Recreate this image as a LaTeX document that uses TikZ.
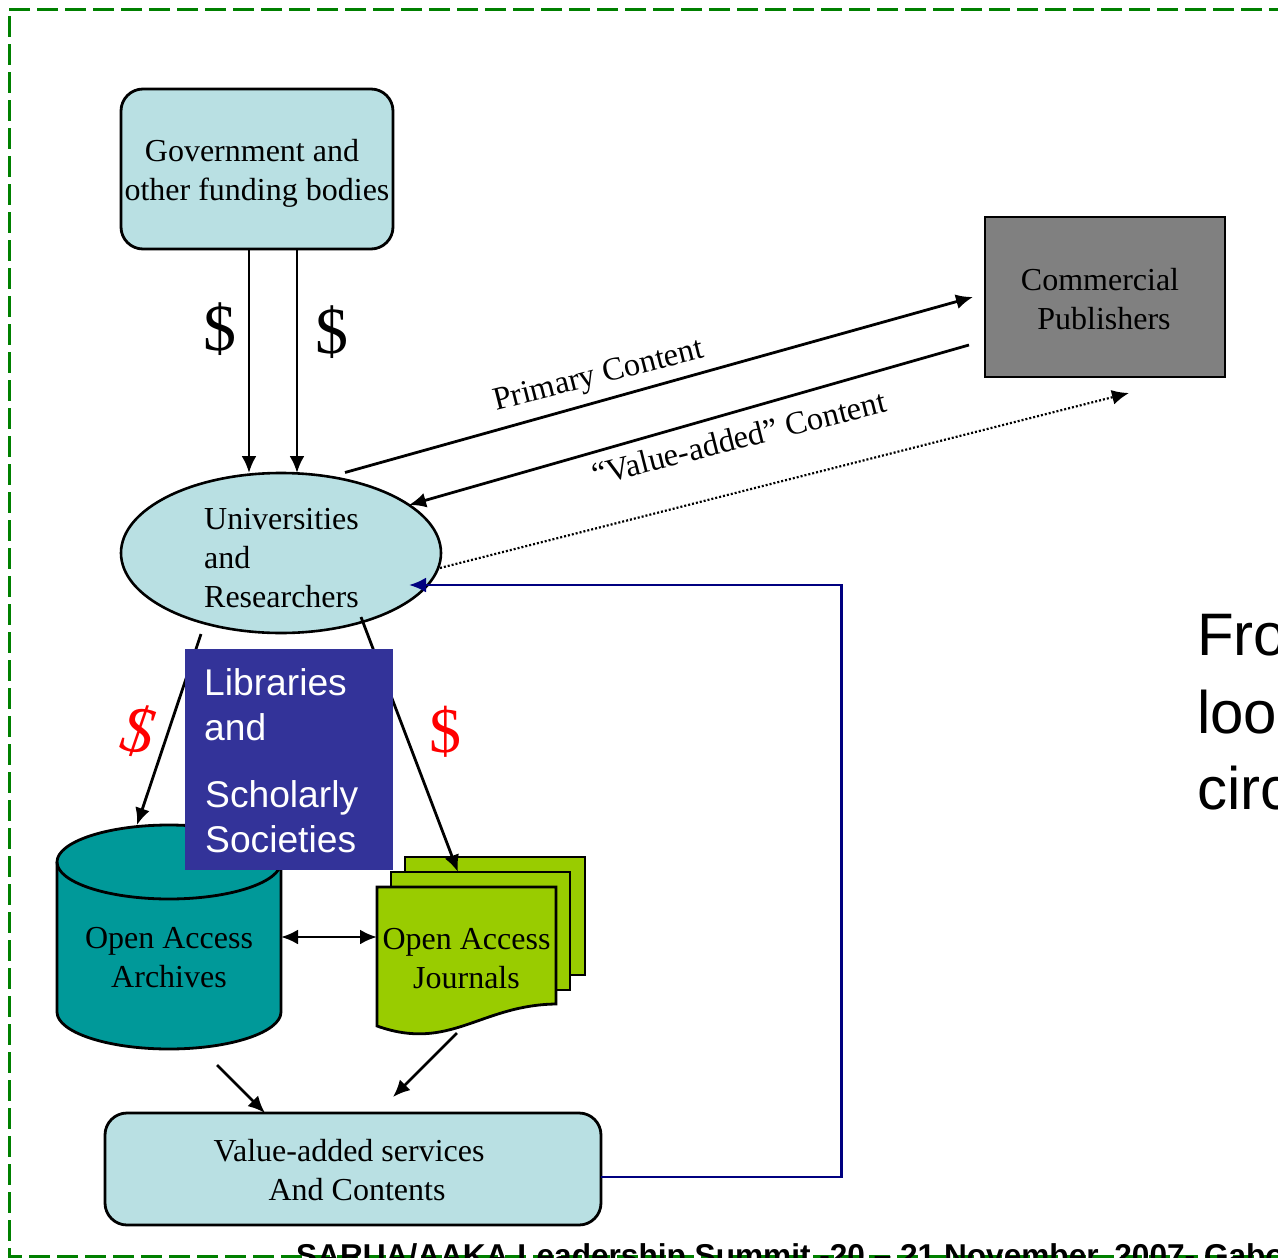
\documentclass[tikz,border=0pt]{standalone}
\usepackage{fontspec}
\setmainfont{Liberation Serif}
\setsansfont{Liberation Sans}
\usetikzlibrary{arrows.meta,shapes.geometric}
\definecolor{paleblue}{HTML}{B9E0E3}
\definecolor{teal2}{HTML}{009999}
\definecolor{lime2}{HTML}{99CC00}
\definecolor{indigo2}{HTML}{333399}
\definecolor{navy2}{HTML}{000080}
\definecolor{frame2}{HTML}{008000}
\definecolor{gray2}{HTML}{808080}
\newcommand{\fs}[2]{\fontsize{#1}{#2}\selectfont}
\newcommand{\gapr}[1]{\hspace*{#1}\mbox{}}
\tikzset{
  x=1pt,y=-1pt,
  tipstyle/.tip={Latex[length=17pt,width=15pt]},
  conn/.style={draw=black,line width=2.8pt,-tipstyle},
  paleround/.style={draw=black,line width=2.8pt,fill=paleblue,rounded corners=22pt,inner sep=0pt},
  bodytext/.style={inner sep=0pt,align=center,font=\fs{32}{39}},
  sheet/.style={draw=black,line width=2.8pt,fill=lime2},
  dollar/.style={inner sep=0pt,font=\fs{66}{66}},
  flowlabel/.style={inner sep=0pt,font=\fs{32.5}{39},rotate=14.2},
  bigtext/.style={inner sep=0pt,anchor=west,font=\sffamily\fs{60}{66}},
}
\begin{document}
\begin{tikzpicture}
\useasboundingbox (0,0) rectangle (1278,1258);
\clip (0,0) rectangle (1278,1258);
% frame
\draw[frame2,line width=3pt,dash pattern=on 21pt off 7pt] (1290,9) -- (9,9) -- (9,1256) -- (1290,1256);
% footer
\node[inner sep=0pt,anchor=base west,font=\sffamily\bfseries\fs{31.6}{36}] (footer) at (296,1266) {SARUA/AAKA Leadership Summit  -20 -- 21 November, 2007- Gabo};
% nodes
\node[paleround,minimum width=272pt,minimum height=160pt] (gov) at (257,169) {};
\node[bodytext] (govt) at (257,173) {Government and\gapr{10pt}\\other funding bodies};
\node[draw=black,line width=2.8pt,fill=gray2,inner sep=0pt,minimum width=240pt,minimum height=160pt] (pub) at (1105,297) {};
\node[bodytext] (pubt) at (1104,299) {Commercial\gapr{8pt}\\Publishers};
\node[ellipse,draw=black,line width=2.6pt,fill=paleblue,inner sep=0pt,minimum width=320pt,minimum height=160pt] (uni) at (281,553) {};
\node[bodytext,align=left] (unit) at (281.5,558) {Universities\\and\\Researchers};
\node[paleround,minimum width=496pt,minimum height=112pt] (vas) at (353,1169) {};
\node[bodytext] (vast) at (357,1170.5) {Value-added services\gapr{16pt}\\And Contents};
% cylinder
\draw[line width=2.8pt,fill=teal2] (57,862) -- (57,1012) .. controls (57,1032) and (107,1049) .. (169,1049) .. controls (231,1049) and (281,1032) .. (281,1012) -- (281,862) .. controls (281,842) and (231,825) .. (169,825) .. controls (107,825) and (57,842) .. cycle;
\draw[line width=2.8pt] (57,862) .. controls (57,882) and (107,899) .. (169,899) .. controls (231,899) and (281,882) .. (281,862);
\node[bodytext] (arch) at (169,958) {Open Access\\Archives};
% journals
\draw[sheet] (405,857) rectangle (585,975);
\draw[sheet] (391,872) rectangle (570,990);
\draw[sheet] (377,887) -- (556,887) -- (556,1004) .. controls (480,1005) and (450,1052) .. (377,1026) -- cycle;
\node[bodytext] (jour) at (466.5,959) {Open Access\\Journals};
% connector ends
\coordinate (g1) at (249,249); \coordinate (u1) at (249,473);
\coordinate (g2) at (297,249); \coordinate (u2) at (297,473);
\coordinate (p1s) at (345,472.5); \coordinate (p1e) at (973,297);
\coordinate (p2s) at (969,345); \coordinate (p2e) at (409,505);
\coordinate (p3s) at (440,568); \coordinate (p3e) at (1129,393);
\coordinate (l1s) at (201,634); \coordinate (l1e) at (137,825);
\coordinate (l2s) at (361,617); \coordinate (l2e) at (458,872);
\coordinate (a1) at (281,937); \coordinate (j1) at (377,937);
\coordinate (j2) at (457,1033); \coordinate (v1) at (393,1097);
\coordinate (a2) at (217,1065); \coordinate (v2) at (265,1113);
\coordinate (b1) at (601,1177); \coordinate (b2) at (841.5,1177); \coordinate (b3) at (841.5,585); \coordinate (b4) at (409,585);
% connectors
\draw[conn] (g1) -- (u1);
\draw[conn] (g2) -- (u2);
\draw[conn] (p1s) -- (p1e);
\draw[conn] (p2s) -- (p2e);
\draw[conn,line width=2.2pt,dash pattern=on 2pt off 2pt] (p3s) -- (p3e);
\draw[conn] (l1s) -- (l1e);
\draw[conn] (l2s) -- (l2e);
\draw[conn,tipstyle-tipstyle] (a1) -- (j1);
\draw[conn] (j2) -- (v1);
\draw[conn] (a2) -- (v2);
\draw[line width=2.8pt,draw=navy2,-tipstyle,line join=miter] (b1) -- (b2) -- (b3) -- (b4);
% libraries box
\node[fill=indigo2,draw=indigo2,line width=.5pt,inner sep=0pt,minimum width=207pt,minimum height=220pt] (lib) at (288.5,759) {};
\begin{scope}[every node/.style={inner sep=0pt,anchor=base west,text=white,font=\sffamily\fs{37.2}{44}}]
\node (lib1) at (204,695) {Libraries};
\node (lib2) at (204,740) {and};
\node (lib3) at (205,807) {Scholarly};
\node (lib4) at (205,852) {Societies};
\end{scope}
% labels
\node[dollar] (d1) at (220,329) {\$};
\node[dollar] (d2) at (332,332) {\$};
\node[dollar,text=red,font=\itshape\fs{66}{66},rotate=-9] (d3) at (138,731) {\$};
\node[dollar,text=red,font=\fs{64}{64}] (d4) at (445,732) {\$};
\node[flowlabel] (lp) at (599,377) {Primary Content};
\node[flowlabel] (lv) at (739,438) {``Value-added'' Content};
% right text
\node[bigtext] (t1) at (1197,635) {Fro};
\node[bigtext] (t2) at (1197,712) {loo};
\node[bigtext] (t3) at (1197,788) {circ};
\end{tikzpicture}
\end{document}
